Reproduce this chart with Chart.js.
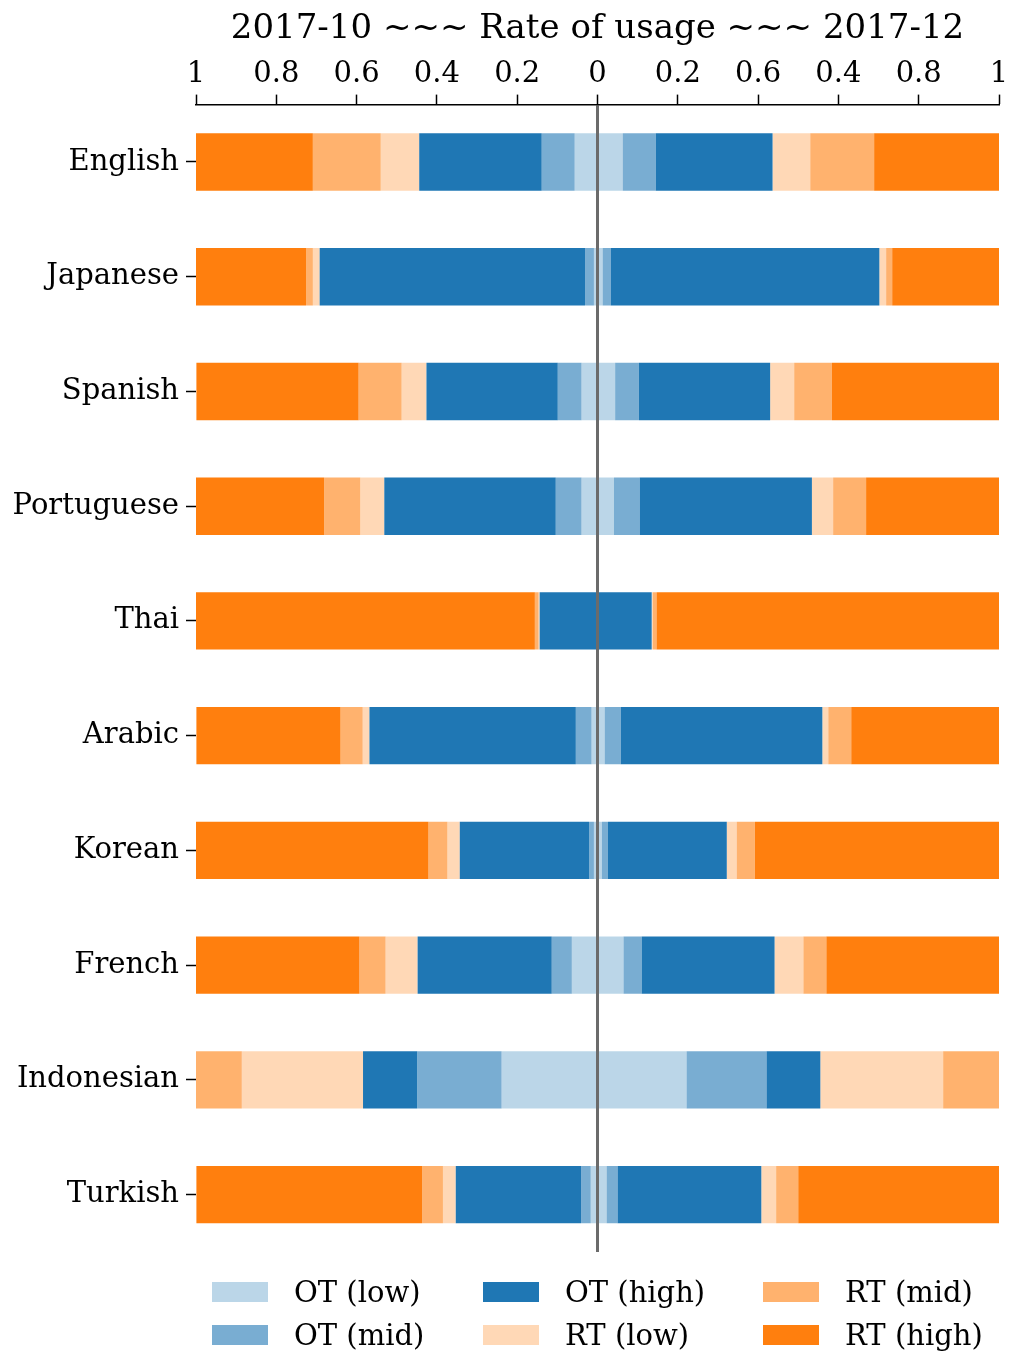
<!DOCTYPE html>
<html>
<head>
<meta charset="utf-8">
<script src="https://cdn.jsdelivr.net/npm/chart.js@4/dist/chart.umd.min.js"></script>
<style>
    body { margin: 0; background: #ffffff; }
    #wrap { position: relative; width: 1009px; height: 1353px; }
    #legend { position: absolute; left: 0; top: 0; font-family: 'DejaVu Serif'; font-size: 29px; color: #000; }
    .item { position: absolute; display: flex; align-items: center; height: 40px; white-space: nowrap; }
    .box { width: 56px; height: 20px; margin-right: 26px; }
</style>
</head>
<body>
<div id="wrap">
    <canvas id="myChart" width="1009" height="1353"></canvas>
    <div id="legend"></div>
</div>
<script>
var languages = ['English', 'Japanese', 'Spanish', 'Portuguese', 'Thai', 'Arabic', 'Korean', 'French', 'Indonesian', 'Turkish'];
var xTickLabels = ['1', '0.8', '0.6', '0.4', '0.2', '0', '0.2', '0.6', '0.4', '0.8', '1'];
var seriesNames = ['OT (low)', 'OT (mid)', 'OT (high)', 'RT (low)', 'RT (mid)', 'RT (high)'];
var seriesColors = [
    'rgba(31, 119, 180, 0.3)', 'rgba(31, 119, 180, 0.6)', 'rgba(31, 119, 180, 1)',
    'rgba(255, 127, 14, 0.3)', 'rgba(255, 127, 14, 0.6)', 'rgba(255, 127, 14, 1)'
];

// 2017-10 (left half)
var octOtLow  = [0.057, 0.009, 0.040, 0.040, 0.000, 0.015, 0.009, 0.064, 0.239, 0.017];
var octOtMid  = [0.082, 0.022, 0.059, 0.064, 0.000, 0.039, 0.012, 0.050, 0.210, 0.024];
var octOtHigh = [0.305, 0.661, 0.327, 0.427, 0.144, 0.514, 0.322, 0.334, 0.135, 0.312];
var octRtLow  = [0.096, 0.017, 0.062, 0.060, 0.003, 0.017, 0.031, 0.080, 0.302, 0.032];
var octRtMid  = [0.169, 0.017, 0.107, 0.090, 0.009, 0.055, 0.047, 0.065, 0.114, 0.052];
var octRtHigh = [0.291, 0.274, 0.404, 0.319, 0.844, 0.359, 0.579, 0.407, 0.000, 0.562];

// 2017-12 (right half)
var decOtLow  = [0.063, 0.013, 0.044, 0.041, 0.000, 0.018, 0.011, 0.065, 0.222, 0.023];
var decOtMid  = [0.082, 0.020, 0.059, 0.064, 0.000, 0.040, 0.015, 0.045, 0.199, 0.027];
var decOtHigh = [0.291, 0.669, 0.327, 0.429, 0.135, 0.502, 0.296, 0.331, 0.134, 0.358];
var decRtLow  = [0.094, 0.017, 0.060, 0.053, 0.003, 0.015, 0.025, 0.072, 0.306, 0.037];
var decRtMid  = [0.159, 0.015, 0.094, 0.082, 0.009, 0.057, 0.045, 0.057, 0.139, 0.055];
var decRtHigh = [0.311, 0.266, 0.416, 0.331, 0.853, 0.368, 0.608, 0.430, 0.000, 0.500];

var octSeries = [octOtLow, octOtMid, octOtHigh, octRtLow, octRtMid, octRtHigh];
var decSeries = [decOtLow, decOtMid, decOtHigh, decRtLow, decRtMid, decRtHigh];

var serif = 'DejaVu Serif';

createChart();
createLegend();

function createChart() {
    var datasets = [];
    // left side goes negative, right side positive, both stacked out from 0
    for (var i = 0; i < seriesNames.length; i++) {
        datasets.push({
            label: seriesNames[i],
            data: octSeries[i].map(function (v) { return -v; }),
            backgroundColor: seriesColors[i],
            borderWidth: 0,
            stack: 'usage'
        });
    }
    for (var j = 0; j < seriesNames.length; j++) {
        datasets.push({
            label: seriesNames[j],
            data: decSeries[j],
            backgroundColor: seriesColors[j],
            borderWidth: 0,
            stack: 'usage'
        });
    }

    var ctx = document.getElementById('myChart').getContext('2d');
    new Chart(ctx, {
        type: 'bar',
        data: {
            labels: languages,
            datasets: datasets
        },
        options: {
            indexAxis: 'y',
            responsive: false,
            animation: false,
            barPercentage: 0.5,
            categoryPercentage: 1.0,
            layout: {
                padding: { left: 0, right: 0, top: 0, bottom: 101 }
            },
            plugins: {
                legend: { display: false },
                tooltip: { enabled: false },
                title: {
                    display: true,
                    text: '2017-10 ~~~ Rate of usage ~~~ 2017-12',
                    fullSize: false,
                    color: '#000000',
                    font: { family: serif, size: 34, weight: 'normal' },
                    padding: { top: 9, bottom: 4 }
                }
            },
            scales: {
                x: {
                    position: 'top',
                    min: -1,
                    max: 1,
                    stacked: true,
                    z: 1,
                    border: { display: true, color: '#000000', width: 1.6 },
                    grid: {
                        color: function (c) {
                            return c.tick && Math.abs(c.tick.value) < 1e-9 ? '#6b6b6b' : 'rgba(0,0,0,0)';
                        },
                        lineWidth: function (c) {
                            return c.tick && Math.abs(c.tick.value) < 1e-9 ? 3 : 1;
                        },
                        tickColor: '#000000',
                        tickLength: 10,
                        tickWidth: 1.5
                    },
                    ticks: {
                        stepSize: 0.2,
                        autoSkip: false,
                        maxRotation: 0,
                        padding: 3,
                        color: '#000000',
                        font: { family: serif, size: 29 },
                        callback: function (value, index) {
                            return xTickLabels[index];
                        }
                    },
                    afterFit: function (scale) {
                        scale.paddingLeft = 0;
                        scale.paddingRight = 10;
                    }
                },
                y: {
                    stacked: true,
                    border: { display: false },
                    grid: {
                        offset: false,
                        drawOnChartArea: false,
                        tickColor: '#000000',
                        tickLength: 10,
                        tickWidth: 1.5
                    },
                    ticks: {
                        padding: 7,
                        color: '#000000',
                        font: { family: serif, size: 29 }
                    },
                    afterFit: function (scale) {
                        scale.width = 196;
                    }
                }
            }
        }
    });
}

function createLegend() {
    var legend = document.getElementById('legend');
    var colX = [212, 483, 763];
    var rowY = [1292, 1335];
    seriesNames.forEach(function (name, i) {
        var item = document.createElement('div');
        item.className = 'item';
        item.style.left = colX[Math.floor(i / 2)] + 'px';
        item.style.top = (rowY[i % 2] - 20) + 'px';
        var box = document.createElement('span');
        box.className = 'box';
        box.style.background = seriesColors[i];
        var text = document.createElement('span');
        text.textContent = name;
        item.appendChild(box);
        item.appendChild(text);
        legend.appendChild(item);
    });
}
</script>
</body>
</html>
